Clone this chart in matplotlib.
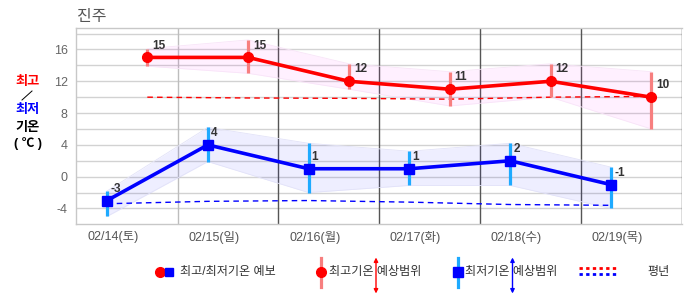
import matplotlib
matplotlib.use('Agg')
import matplotlib.pyplot as plt
from matplotlib.lines import Line2D
import numpy as np

plt.rcParams['font.family'] = ['Liberation Sans', 'Noto Sans CJK KR']

station = '진주'
dates = ['02/14(토)', '02/15(일)', '02/16(월)', '02/17(화)', '02/18(수)', '02/19(목)']
max_temp = [15, 15, 12, 11, 12, 10]
max_hi = [16.1, 17.2, 14.2, 13.2, 14.2, 13.2]
max_lo = [13.9, 13.0, 11.0, 8.9, 10.0, 6.0]
min_temp = [-3, 4, 1, 1, 2, -1]
min_hi = [-1.8, 6.2, 4.2, 3.2, 4.2, 1.2]
min_lo = [-5.0, 1.9, -2.0, -1.1, -1.1, -4.0]
normal_max = [10.0, 9.9, 9.85, 9.75, 10.0, 10.1]
normal_min = [-3.4, -3.1, -3.0, -3.2, -3.5, -3.6]
yticks = [-4, 0, 4, 8, 12, 16]

W, H = 686, 295
fig = plt.figure(figsize=(W / 100, H / 100), dpi=100)
ax = fig.add_axes([76 / W, 1 - 224 / H, (682 - 76) / W, (224 - 28) / H])

n = len(dates)
x_min = np.arange(n, dtype=float)
x_max = x_min + 0.4
x_lab = x_min + 0.06
bounds = x_min + 0.7

ax.set_xlim(-0.3075, 5.704)
ax.set_ylim(-5.95, 18.7)

# grid
for g in np.arange(-4, 19, 2):
    ax.axhline(g, color='#d2d2d2', lw=1.0, zorder=0.5)
for i, b in enumerate(bounds):
    ax.axvline(b, color='#bdbdbd' if i == 0 else '#555555', lw=1.0, zorder=0.6)

# bands
ax.fill_between(x_max, max_lo, max_hi, color='#ff00ff', alpha=0.06, lw=0, zorder=1)
ax.plot(x_max, max_hi, color='#f8e4f8', lw=0.6, zorder=1.1)
ax.plot(x_max, max_lo, color='#f8e4f8', lw=0.6, zorder=1.1)
ax.fill_between(x_min, min_lo, min_hi, color='#0000ff', alpha=0.065, lw=0, zorder=1)
ax.plot(x_min, min_hi, color='#e2e2f8', lw=0.6, zorder=1.1)
ax.plot(x_min, min_lo, color='#e2e2f8', lw=0.6, zorder=1.1)

# normals
ax.plot(x_max, normal_max, color='#ff0000', lw=1.0, ls=(0, (4, 3)), zorder=2)
ax.plot(x_min, normal_min, color='#0000ff', lw=1.0, ls=(0, (4, 3)), zorder=2)

# range bars
ax.vlines(x_max, max_lo, max_hi, color='#f77f7f', lw=2.3, zorder=3)
ax.vlines(x_min, min_lo, min_hi, color='#1eaaff', lw=2.3, zorder=3)

# main lines
ax.plot(x_max, max_temp, color='#ff0000', lw=2.6, marker='o', ms=7, zorder=5)
ax.plot(x_min, min_temp, color='#0000ff', lw=2.6, marker='s', ms=7.5, zorder=5)

for xv, v in zip(x_max, max_temp):
    ax.annotate(str(v), (xv, v), xytext=(3.5, 4.2), textcoords='offset points',
                fontsize=8.5, fontweight='bold', color='#333333', ha='left', va='bottom', zorder=6)
for xv, v in zip(x_min, min_temp):
    ax.annotate(str(v), (xv, v), xytext=(2.2, 4.0), textcoords='offset points',
                fontsize=8.5, fontweight='bold', color='#333333', ha='left', va='bottom', zorder=6)

ax.set_xticks(x_lab)
ax.set_xticklabels(dates)
ax.set_yticks(yticks)
ax.set_yticklabels([str(t) for t in yticks])
ax.tick_params(axis='x', length=0, pad=5, labelsize=9, labelcolor='#555555')
ax.tick_params(axis='y', length=0, pad=6, labelsize=9, labelcolor='#666666')
for s in ['left', 'bottom', 'top']:
    ax.spines[s].set_color('#c8c8c8')
    ax.spines[s].set_linewidth(1.0)
ax.spines['right'].set_visible(False)

# overlay in pixel coordinates for titles and legend
ov = fig.add_axes([0, 0, 1, 1], facecolor='none')
ov.set_xlim(0, W)
ov.set_ylim(H, 0)
ov.axis('off')

ov.text(77, 16.5, station, fontsize=11.5, color='#555555', ha='left', va='center')

ov.text(28, 81.5, '최고', fontsize=9.5, fontweight='bold', color='#ff0000', ha='center', va='center')
ov.add_line(Line2D([22, 32], [100, 91], color='#000000', lw=0.7))
ov.text(28, 110, '최저', fontsize=9.5, fontweight='bold', color='#0000ff', ha='center', va='center')
ov.text(28, 128, '기온', fontsize=9.5, fontweight='bold', color='#000000', ha='center', va='center')
ov.text(28, 143.5, '( ℃ )', fontsize=9, fontweight='bold', color='#000000', ha='center', va='center')

ly = 271.7
fs_leg = 8.7
# item 1
ov.plot([159.5], [ly], marker='o', color='#ff0000', ms=7, ls='none')
ov.plot([169], [ly], marker='s', color='#0000ff', ms=6, ls='none')
ov.text(180, ly, '최고/최저기온 예보', fontsize=fs_leg, color='#333333', ha='left', va='center')
# item 2
ov.add_line(Line2D([321, 321], [257.5, 286.5], color='#f77f7f', lw=2.3))
ov.plot([321], [ly], marker='o', color='#ff0000', ms=7, ls='none')
ov.text(329, ly, '최고기온 예상범위', fontsize=fs_leg, color='#333333', ha='left', va='center')
ov.annotate('', xy=(376, 257.5), xytext=(376, 293.5),
            arrowprops=dict(arrowstyle='<|-|>', color='#ff0000', lw=1.0, mutation_scale=6, shrinkA=0, shrinkB=0))
# item 3
ov.add_line(Line2D([457.5, 457.5], [257.5, 286.5], color='#1eaaff', lw=2.3))
ov.plot([457.5], [ly], marker='s', color='#0000ff', ms=6.5, ls='none')
ov.text(465, ly, '최저기온 예상범위', fontsize=fs_leg, color='#333333', ha='left', va='center')
ov.annotate('', xy=(512.5, 257.5), xytext=(512.5, 293.5),
            arrowprops=dict(arrowstyle='<|-|>', color='#0000ff', lw=1.0, mutation_scale=6, shrinkA=0, shrinkB=0))
# item 4
ov.add_line(Line2D([579, 616], [268.3, 268.3], color='#ff0000', lw=2.0, ls=(0, (1.2, 1.2))))
ov.add_line(Line2D([579, 616], [274.3, 274.3], color='#0000ff', lw=2.0, ls=(0, (1.2, 1.2))))
ov.text(647, ly, '평년', fontsize=fs_leg, color='#333333', ha='left', va='center')

fig.savefig('out.png', dpi=100)
